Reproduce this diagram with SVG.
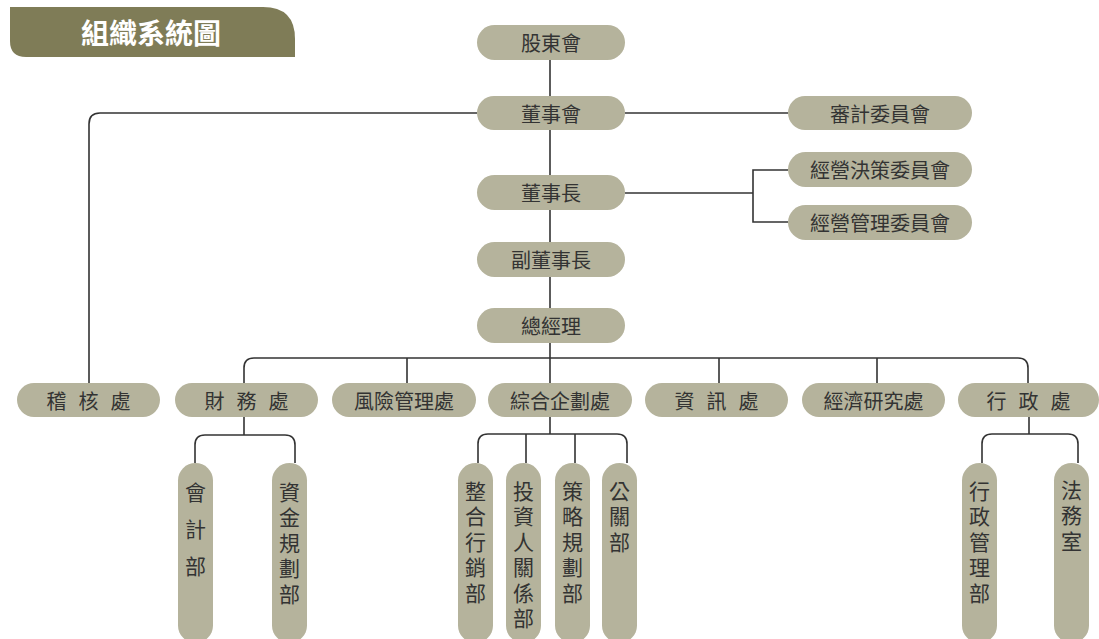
<svg xmlns="http://www.w3.org/2000/svg" width="1099" height="639" viewBox="0 0 1099 639">
<style>
.n{fill:#b5b39c}
.t{font-family:"Noto Sans CJK TC","Noto Sans CJK SC",sans-serif;font-size:20px;fill:#333;text-anchor:middle;dominant-baseline:central}
.v{font-family:"Noto Sans CJK TC","Noto Sans CJK SC",sans-serif;font-size:21px;fill:#333;writing-mode:vertical-rl;text-orientation:upright;letter-spacing:4.5px}
.sp{letter-spacing:12px}
.c{fill:none;stroke:#333;stroke-width:1.6}
</style>
<rect width="1099" height="639" fill="#fff"/>
<g id="title">
<path d="M10 7 H263 Q295 7 295 39 V57 H26 Q10 57 10 41 Z" fill="#7f7c57"/>
<text x="151" y="32" font-family="'Noto Sans CJK TC','Noto Sans CJK SC',sans-serif" font-size="28" font-weight="bold" fill="#fff" text-anchor="middle" dominant-baseline="central">組織系統圖</text>
</g>
<g id="connectors" class="c">
<path d="M550 60 V383"/>
<path d="M625 113 H788"/>
<path d="M477 113 H100 Q89 113 89 124 V383"/>
<path d="M625 193 H753"/>
<path d="M788 170 H753 V222 H788"/>
<path d="M244 383 V368 Q244 358 254 358 H1018 Q1028 358 1028 368 V383"/>
<path d="M407 358 V383 M719 358 V383 M877 358 V383"/>
<path d="M244 417 V435"/>
<path d="M195 463 V445 Q195 435 205 435 H285 Q295 435 295 445 V463"/>
<path d="M550 417 V434"/>
<path d="M478 463 V444 Q478 434 488 434 H617 Q627 434 627 444 V463"/>
<path d="M526 434 V463 M575 434 V463"/>
<path d="M1029 417 V434"/>
<path d="M982 463 V444 Q982 434 992 434 H1068 Q1078 434 1078 444 V463"/>
</g>
<g id="n-gudonghui"><rect class="n" x="477" y="25" width="148" height="35" rx="17.5"/><text class="t" x="551" y="42.5">股東會</text></g>
<g id="n-dongshihui"><rect class="n" x="477" y="96" width="148" height="34" rx="17"/><text class="t" x="551" y="113">董事會</text></g>
<g id="n-shenji"><rect class="n" x="788" y="96" width="184" height="34" rx="17"/><text class="t" x="880" y="113">審計委員會</text></g>
<g id="n-juece"><rect class="n" x="788" y="152" width="184" height="35" rx="17.5"/><text class="t" x="880" y="169.5">經營決策委員會</text></g>
<g id="n-guanliwei"><rect class="n" x="788" y="205" width="184" height="35" rx="17.5"/><text class="t" x="880" y="222.5">經營管理委員會</text></g>
<g id="n-dongshizhang"><rect class="n" x="477" y="175" width="148" height="35" rx="17.5"/><text class="t" x="551" y="192.5">董事長</text></g>
<g id="n-fudong"><rect class="n" x="477" y="242" width="148" height="35" rx="17.5"/><text class="t" x="551" y="259.5">副董事長</text></g>
<g id="n-zongjingli"><rect class="n" x="477" y="308" width="148" height="35" rx="17.5"/><text class="t" x="551" y="325.5">總經理</text></g>
<g id="n-jihe"><rect class="n" x="17" y="383" width="143" height="34" rx="17"/><text class="t sp" x="94.5" y="400">稽核處</text></g>
<g id="n-caiwu"><rect class="n" x="175" y="383" width="143" height="34" rx="17"/><text class="t sp" x="252.5" y="400">財務處</text></g>
<g id="n-fengxian"><rect class="n" x="332" y="383" width="144" height="34" rx="17"/><text class="t" x="404" y="400">風險管理處</text></g>
<g id="n-zonghe"><rect class="n" x="488" y="383" width="144" height="34" rx="17"/><text class="t" x="560" y="400">綜合企劃處</text></g>
<g id="n-zixun"><rect class="n" x="645" y="383" width="143" height="34" rx="17"/><text class="t sp" x="722.5" y="400">資訊處</text></g>
<g id="n-jingji"><rect class="n" x="802" y="383" width="143" height="34" rx="17"/><text class="t" x="873.5" y="400">經濟研究處</text></g>
<g id="n-xingzheng"><rect class="n" x="958" y="383" width="141" height="34" rx="17"/><text class="t sp" x="1034.5" y="400">行政處</text></g>
<g id="n-kuaiji"><rect class="n" x="178" y="463" width="35" height="180" rx="17.5"/><text class="v" x="195.5" y="481.5" style="letter-spacing:16px">會計部</text></g>
<g id="n-zijin"><rect class="n" x="272" y="463" width="35" height="180" rx="17.5"/><text class="v" x="289.5" y="481.5">資金規劃部</text></g>
<g id="n-zhenghe"><rect class="n" x="458" y="463" width="35" height="180" rx="17.5"/><text class="v" x="475.5" y="480.5">整合行銷部</text></g>
<g id="n-touzi"><rect class="n" x="506" y="463" width="35" height="180" rx="17.5"/><text class="v" x="523.5" y="480.5">投資人關係部</text></g>
<g id="n-celue"><rect class="n" x="555" y="463" width="35" height="180" rx="17.5"/><text class="v" x="572.5" y="480.5">策略規劃部</text></g>
<g id="n-gongguan"><rect class="n" x="602" y="463" width="35" height="180" rx="17.5"/><text class="v" x="619.5" y="480.5">公關部</text></g>
<g id="n-xingzhengguanli"><rect class="n" x="962" y="463" width="35" height="180" rx="17.5"/><text class="v" x="979.5" y="480.5">行政管理部</text></g>
<g id="n-fawu"><rect class="n" x="1054" y="463" width="35" height="180" rx="17.5"/><text class="v" x="1071.5" y="479.5">法務室</text></g>
</svg>
